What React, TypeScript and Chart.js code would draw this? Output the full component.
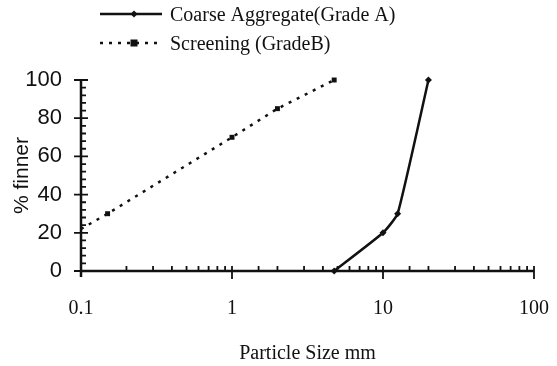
import React, { useEffect, useRef } from "react";
import { Chart, registerables } from "chart.js";

Chart.register(...registerables);

// ---- data ----
const seriesLabels = ["Coarse Aggregate(Grade A)", "Screening (GradeB)"];
const coarseSizes = [4.75, 10, 12.5, 20];
const coarsePassing = [0, 20, 30, 100];
const screeningSizes = [0.1, 0.15, 1, 2, 4.75];
const screeningPassing = [22, 30, 70, 85, 100];
const screeningMarkerShown = [false, true, true, true, true];
const xTickLabels = ["0.1", "1", "10", "100"];
const yTickValues = [0, 20, 40, 60, 80, 100];
const xTitle = "Particle Size mm";
const yTitle = "% finner";

const INK = "#111111";
const SERIF = "'Liberation Serif', 'Times New Roman', serif";
const SANS = "'Liberation Sans', Arial, sans-serif";
const NARROW = "'Liberation Sans Narrow', 'Liberation Sans', Arial, sans-serif";

const isDecade = (v: number) => Math.abs(Math.log10(v) - Math.round(Math.log10(v))) < 1e-6;

const decorPlugin = {
  id: "decor",
  afterDraw(chart: any) {
    const ctx = chart.ctx;
    const xs = chart.scales.x;
    const ys = chart.scales.y;
    const y0 = ys.getPixelForValue(0);
    const xL = xs.getPixelForValue(0.1);
    ctx.save();
    ctx.strokeStyle = INK;
    ctx.fillStyle = INK;
    ctx.lineWidth = 2.5;
    // axis lines
    ctx.beginPath();
    ctx.moveTo(xL, y0);
    ctx.lineTo(xs.right, y0);
    ctx.moveTo(xL, ys.getPixelForValue(100) - 1);
    ctx.lineTo(xL, y0 + 6);
    ctx.stroke();
    // x ticks
    ctx.lineWidth = 1.8;
    ctx.beginPath();
    xs.ticks.forEach((t: any) => {
      const px = xs.getPixelForValue(t.value);
      if (isDecade(t.value)) {
        if (t.value > 0.1) {
          ctx.moveTo(px, y0 - 5);
          ctx.lineTo(px, y0 + 8);
        }
      } else {
        ctx.moveTo(px, y0 - 5);
        ctx.lineTo(px, y0);
      }
    });
    ctx.stroke();
    // y ticks
    ctx.beginPath();
    for (let v = 0; v <= 100; v += 4) {
      const py = ys.getPixelForValue(v);
      if (yTickValues.includes(v)) {
        ctx.moveTo(xL - 7, py);
        ctx.lineTo(xL + 7, py);
      } else {
        ctx.moveTo(xL, py);
        ctx.lineTo(xL + 5, py);
      }
    }
    ctx.stroke();

    // legend
    chart.data.datasets.forEach((ds: any, i: number) => {
      const ry = 14 + i * 29;
      ctx.save();
      ctx.lineWidth = ds.borderWidth;
      ctx.setLineDash(ds.borderDash || []);
      ctx.beginPath();
      ctx.moveTo(100, ry);
      ctx.lineTo(162, ry);
      ctx.stroke();
      ctx.restore();
      const mx = 134;
      ctx.beginPath();
      if (ds.pointStyle === "rect") {
        ctx.fillRect(mx - 3.5, ry - 3.5, 7, 7);
      } else {
        ctx.moveTo(mx, ry - 3.5);
        ctx.lineTo(mx + 3.5, ry);
        ctx.lineTo(mx, ry + 3.5);
        ctx.lineTo(mx - 3.5, ry);
        ctx.closePath();
        ctx.fill();
      }
      ctx.font = `20px ${SERIF}`;
      ctx.textBaseline = "middle";
      ctx.textAlign = "left";
      ctx.fillText(ds.label, 170, ry + 2);
    });
    ctx.restore();
  },
};

export default function App() {
  const ref = useRef<HTMLCanvasElement | null>(null);

  useEffect(() => {
    if (!ref.current) return;
    const chart = new Chart(ref.current, {
      type: "line",
      data: {
        datasets: [
          {
            label: seriesLabels[0],
            data: coarseSizes.map((s, i) => ({ x: s, y: coarsePassing[i] })),
            borderColor: INK,
            backgroundColor: INK,
            borderWidth: 2.5,
            pointStyle: "rectRot",
            pointRadius: 3.5,
            pointBorderWidth: 0,
            tension: 0.15,
            clip: false,
          },
          {
            label: seriesLabels[1],
            data: screeningSizes.map((s, i) => ({ x: s, y: screeningPassing[i] })),
            borderColor: INK,
            backgroundColor: INK,
            borderWidth: 2.5,
            borderDash: [3, 6],
            pointStyle: "rect",
            pointRadius: screeningMarkerShown.map((m) => (m ? 3.5 : 0)),
            pointBorderWidth: 0,
            tension: 0,
            clip: false,
          },
        ],
      } as any,
      options: {
        animation: false,
        responsive: false,
        devicePixelRatio: 1,
        layout: { padding: { top: 80, right: 23, left: 0, bottom: 0 } },
        plugins: { legend: { display: false }, tooltip: { enabled: false } },
        scales: {
          x: {
            type: "logarithmic",
            min: 0.1,
            max: 100,
            position: "bottom",
            grid: { display: false, drawTicks: false },
            border: { display: false },
            ticks: {
              autoSkip: false,
              maxRotation: 0,
              padding: 26,
              color: INK,
              font: { family: SERIF, size: 20 },
              callback: (value: any) => {
                const v = Number(value);
                if (!isDecade(v)) return "";
                const lbl = xTickLabels.find((l) => Math.abs(Number(l) - v) < 1e-9);
                return lbl ?? "";
              },
            },
            title: {
              display: true,
              text: xTitle,
              color: INK,
              font: { family: SERIF, size: 20 },
              padding: { top: 0, bottom: 0 },
            },
            afterFit: (s: any) => {
              s.height = 95;
              s.paddingLeft = 0;
              s.paddingRight = 0;
            },
          },
          y: {
            type: "linear",
            min: 0,
            max: 100,
            grid: { display: false, drawTicks: false },
            border: { display: false },
            ticks: {
              stepSize: 20,
              padding: 19,
              color: INK,
              font: { family: NARROW, size: 22 },
            },
            title: {
              display: true,
              text: yTitle,
              color: INK,
              font: { family: SANS, size: 21 },
              padding: { top: 10, bottom: 0 },
            },
            afterFit: (s: any) => {
              s.width = 81;
              s.paddingTop = 0;
              s.paddingBottom = 0;
            },
          },
        },
      } as any,
      plugins: [decorPlugin],
    });
    return () => chart.destroy();
  }, []);

  return (
    <div style={{ position: "fixed", left: 0, top: 0, width: 557, height: 366, background: "#fff" }}>
      <canvas ref={ref} width={557} height={366} style={{ display: "block" }} />
    </div>
  );
}
